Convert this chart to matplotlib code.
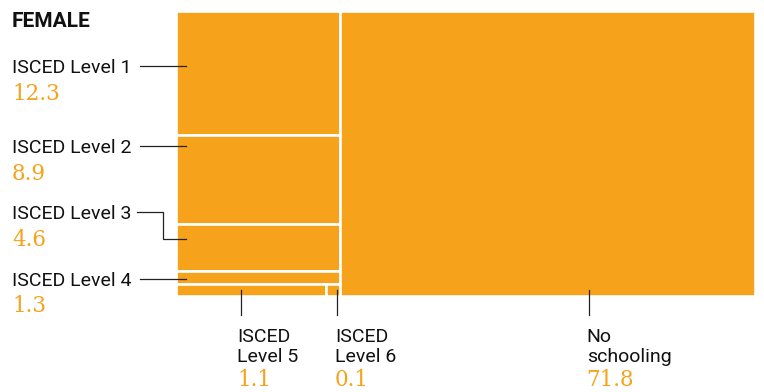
import matplotlib
matplotlib.use("Agg")
import matplotlib.pyplot as plt
from matplotlib.patches import Rectangle

# ==========================
# data (share of females, %)
# ==========================
levels = ["ISCED Level 1", "ISCED Level 2", "ISCED Level 3", "ISCED Level 4",
          "ISCED Level 5", "ISCED Level 6", "No schooling"]
values = [12.3, 8.9, 4.6, 1.3, 1.1, 0.1, 71.8]
labels = ["12.3", "8.9", "4.6", "1.3", "1.1", "0.1", "71.8"]

ORANGE = "#F7A21B"
LINE = "#222222"

# treemap box in pixel coords
X0, X1, Y0, Y1 = 176, 755, 11, 296

fig = plt.figure(figsize=(7.64, 3.92), dpi=100)
ax = fig.add_axes([0, 0, 1, 1])
ax.set_xlim(0, 764)
ax.set_ylim(392, 0)
ax.axis("off")

# ==========================
# layout: left column stacked, right = no schooling
# ==========================
total = sum(values)
left_sum = sum(values[:6])
xm = X0 + (X1 - X0) * left_sum / total
H = Y1 - Y0

rects = {}
y = Y0
for i in range(4):
    h = H * values[i] / left_sum
    rects[i] = (X0, y, xm - X0, h)
    y += h
# last row: level 5 + level 6 side by side
h = H * (values[4] + values[5]) / left_sum
w5 = (xm - X0) * values[4] / (values[4] + values[5])
rects[4] = (X0, y, w5, h)
rects[5] = (X0 + w5, y, xm - X0 - w5, h)
rects[6] = (xm, Y0, X1 - xm, H)

for i, (x, yy, w, hh) in rects.items():
    ax.add_patch(Rectangle((x, yy), w, hh, facecolor=ORANGE,
                           edgecolor="white", linewidth=1.9))

lab_font = dict(family="Roboto", fontsize=14, color="#111111")
num_font = dict(family="DejaVu Serif", fontsize=15.5, color=ORANGE)

ax.text(12, 26.7, "FEMALE", family="Roboto", fontsize=15, fontweight="bold",
        color="#111111", va="baseline")

# left labels
left_pos = [(73, 100, 65.7), (153, 180, 146), (219, 246, 212.3), (285.5, 312, 279)]
for i, (yb, nb, yl) in enumerate(left_pos):
    ax.text(12, yb, levels[i], va="baseline", **lab_font)
    ax.text(12, nb, labels[i], va="baseline", **num_font)
    xe = rects[i][0] + 10
    if i == 2:
        ye = 239.3
        ax.plot([137, 163, 163, xe], [yl, yl, ye, ye], color=LINE, lw=0.9)
    else:
        ax.plot([140, xe], [yl, yl], color=LINE, lw=0.9)

# bottom labels
bottom = [(4, 240.7, 237.3, "ISCED", "Level 5"),
          (5, 337.3, 335, "ISCED", "Level 6"),
          (6, 589, 586.7, "No", "schooling")]
for i, xl, xt, t1, t2 in bottom:
    ax.plot([xl, xl], [290, 315], color=LINE, lw=0.9)
    ax.text(xt, 341.5, t1, va="baseline", **lab_font)
    ax.text(xt, 361.7, t2, va="baseline", **lab_font)
    ax.text(xt, 386.5, labels[i], va="baseline", **num_font)

fig.savefig("out.png", dpi=100)
